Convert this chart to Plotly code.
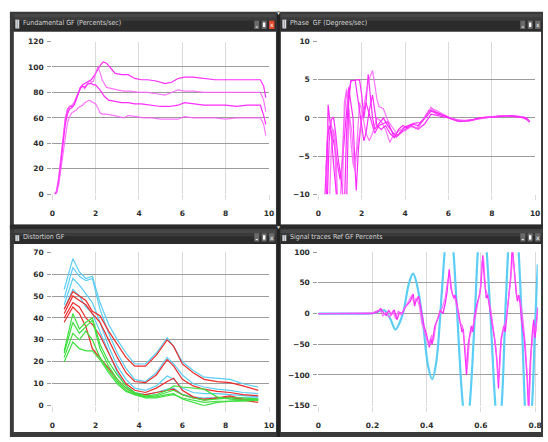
import plotly.graph_objects as go

W, H = 548, 442

# ---------------- data ----------------
# Fundamental GF (Percents/sec)
fund_a_x = [0.12,0.2,0.3,0.4,0.5,0.6,0.7,0.8,0.9,1.0,1.1,1.2,1.3,1.4,1.5,1.6,1.7,1.8,2.0,2.2,2.35,2.5,2.7,2.9,3.2,3.5,3.8,4.1,4.4,4.8,5.2,5.5,5.8,6.1,6.5,7.0,7.5,8.0,8.5,9.0,9.4,9.6,9.75,9.85]
fund_a_y = [0,2,12,28,45,58,66,69,69,70,74,80,84,86,87,88,89,90,95,101,104,103,99,95,94,94,91,90,90,89,87,88,91,92,92,91,90,90,90,90,90,90,85,76]
fund_b_x = [0.12,0.2,0.3,0.4,0.5,0.6,0.7,0.8,0.9,1.0,1.1,1.2,1.3,1.4,1.5,1.6,1.7,1.8,1.9,2.0,2.1,2.2,2.3,2.5,2.7,3.0,3.3,3.6,4.0,4.4,4.8,5.2,5.5,5.8,6.1,6.5,7.0,7.5,8.0,8.5,9.0,9.4,9.6,9.75,9.85]
fund_b_y = [0,3,14,30,47,60,67,69,70,72,76,80,83,85,83,86,89,88,89,95,100,96,90,84,83,82,81,81,80,80,79,78,80,82,81,81,80,80,80,80,80,80,80,74,65]
fund_c_x = [0.12,0.2,0.3,0.4,0.5,0.6,0.7,0.8,0.9,1.0,1.1,1.2,1.3,1.4,1.5,1.6,1.7,1.8,1.9,2.0,2.2,2.4,2.6,2.9,3.2,3.5,3.8,4.1,4.5,5.0,5.4,5.8,6.1,6.5,7.0,7.5,8.0,8.5,9.0,9.4,9.6,9.75,9.85]
fund_c_y = [0,2,10,25,42,55,63,67,68,70,75,80,84,85,84,86,87,87,86,86,82,77,74,73,72,72,71,71,70,69,69,70,72,71,70,70,70,69,70,70,70,62,55]
fund_d_x = [0.12,0.2,0.3,0.4,0.5,0.6,0.7,0.8,0.9,1.0,1.1,1.2,1.3,1.4,1.5,1.6,1.7,1.8,1.9,2.0,2.1,2.2,2.3,2.5,2.8,3.1,3.3,3.5,3.8,4.2,4.6,5.0,5.4,5.8,6.1,6.5,7.0,7.5,8.0,8.5,9.0,9.4,9.6,9.75,9.85]
fund_d_y = [0,1,8,20,35,48,56,61,64,65,66,68,69,70,72,73,74,73,72,71,68,64,63,63,62,61,60,62,61,60,60,59,59,59,61,60,60,60,59,60,60,60,60,55,46]

# Phase GF (Degrees/sec)
ph1_x = [0.38,0.45,0.6,0.7,1.0,1.1,1.4,1.5,1.6,1.7,1.75,1.85,2.0,2.2,2.4,2.6,2.8,3.2,3.5,3.8,4.0,4.3,4.6,4.9,5.2,5.5,6.0,6.5,7.0,7.5,8.0,8.5,9.0,9.5,9.75]
ph1_y = [-10.5,1.7,-2,-3,-8,-6,4,2,0,-7,-9.5,-4,0,2,0,-2,-1,-0.5,-2.5,-2,-1.5,-1,-1.5,-0.8,0.5,0.3,0,-0.3,-0.4,0,0.1,0.3,0.2,0,-0.5]
ph2_x = [0.35,0.45,0.55,0.65,0.75,0.85,1.0,1.15,1.3,1.4,1.5,1.6,1.7,1.8,1.9,2.0,2.2,2.35,2.5,2.7,2.9,3.1,3.3,3.5,3.7,3.9,4.2,4.5,4.8,5.0,5.2,5.4,5.7,6.0,6.4,6.8,7.2,7.6,8.0,8.4,8.8,9.2,9.5,9.7]
ph2_y = [-7,0.2,-0.5,-1.5,-3,-11,-12,-2,3.8,1.0,-3,-6,-7,-2,2,1,-2,-3,-2,0,-0.5,-1.5,-3.2,-2,-2.3,-1.3,-1,-1.4,-0.5,0.4,1.4,0.8,0.5,0.1,-0.4,-0.3,-0.2,0,0.1,0.2,0.3,0.2,0.1,-0.4]
ph3_x = [0.4,0.5,0.6,0.7,0.8,0.9,1.05,1.2,1.3,1.4,1.5,1.6,1.9,2.0,2.1,2.2,2.3,2.4,2.5,2.6,2.8,3.0,3.2,3.4,3.6,3.8,4.0,4.3,4.6,4.9,5.1,5.3,5.6,5.9,6.2,6.6,7.0,7.5,8.0,8.5,9.0,9.4,9.7]
ph3_y = [-12,-3,-0.2,0.1,-2,-5,-8,-12,-2,3,4.8,4.9,5.0,3,0,2,5.7,3,0,-1.5,-0.8,0,-1,-1.8,-2.5,-1.8,-1.2,-0.8,-1,0,1,0.9,0.6,0.2,-0.2,-0.4,-0.3,0,0.1,0.3,0.2,0.1,-0.3]
ph4_x = [0.5,0.6,0.7,0.8,0.9,1.1,1.2,1.3,1.45,1.55,1.65,1.8,1.95,2.1,2.25,2.4,2.5,2.6,2.7,2.8,3.0,3.2,3.4,3.6,3.8,4.0,4.3,4.6,4.8,5.0,5.25,5.5,5.8,6.1,6.5,6.9,7.3,7.7,8.1,8.5,8.9,9.3,9.6,9.75]
ph4_y = [-12,-4,-1.5,-3,-12,-12,2,3.5,0,-2,-6,-4,-1,1.5,4,5.5,6.2,4.5,2.5,1.5,1.2,-0.3,-1.2,-2,-1.5,-1.7,-1.1,-1.4,-0.4,0.6,1.2,0.9,0.4,0,-0.3,-0.4,-0.2,0,0.2,0.3,0.3,0.2,0,-0.6]
ph5_x = [0.3,0.42,0.5,0.6,0.7,0.8,0.9,1.3,1.4,1.5,1.7,1.85,2.0,2.1,2.2,2.35,2.5,2.6,2.7,2.9,3.1,3.3,3.5,3.7,3.9,4.1,4.4,4.7,5.0,5.2,5.5,5.8,6.1,6.5,6.9,7.3,7.7,8.1,8.5,8.9,9.3,9.6,9.75]
ph5_y = [-10.5,-3,-1,-2,-6,-9,-12,-12,2,4.9,4.9,2,-1,-3,-2,1,3,1,-1,-1.5,-1,-2,-2.6,-1.5,-1,-1.3,-0.7,-0.6,0.2,0.9,0.5,0.3,-0.1,-0.5,-0.4,-0.1,0.1,0.1,0.2,0.3,0.1,0,-0.5]

# Distortion GF
dist_x = [0.55,0.95,1.25,1.55,1.85,2.2,2.6,3.0,3.4,3.8,4.3,4.8,5.3,5.6,6.0,6.5,7.0,7.6,8.2,8.8,9.5]
blue_1 = [53,67,61,58,59,47,37,30,24,19,19,24,31,27,20,16,13,12.5,12,10,8.5]
blue_2 = [49,63,59,57,58,44,33,24,17,12,11,15,22,19,14,10,8.5,7.5,7,6,5.5]
blue_3 = [46,58,55,51,47,38,27,18,12,8,7,9,13.5,12,8,6,5.5,5.5,5,4.5,4]
blue_4 = [44,53,50,45,42,34,24,15,9,6,5,6,7.5,8,5,4,3.5,3.5,3.5,3.5,3.5]
red_1 = [44,52,50,48,43,41,34,28,22,18,18,23,30,27,19,15,12,11,10.5,9,7]
red_2 = [42,50,48,46,42,38,30,22,15,11,10.5,14,21,18,12,9,7.5,6.5,6,5,4.5]
red_3 = [40,47,45,40,37,32,24,16,10,7,6,8,11,12.5,7,4,2.5,3.5,4.5,3,2.5]
red_4 = [38,45,42,36,26,22,17,12,8,5.5,5,6,7,7.5,5,3.5,3,3.5,4,2.5,1.5]
green_1 = [25,42,35,38,40,28,20,14,9,6,4.5,5,7,9,8.5,8,7.5,4,3,2.5,3]
green_2 = [24,38,33,36,39,26,18,12,8,5.5,4,4.5,6,7,5,3.5,2.5,3,3.5,3.5,3]
green_3 = [22,33,30,34,30,22,16,11,7,5,4,4,5,5.5,3,1.5,0,1.5,2,2.5,2.5]
green_4 = [20,29,26,25,25,21,15,10,6.5,5,3.5,3.5,4.5,5,3.5,2.5,1.5,2,2,2,2.5]

# Signal traces Ref GF Percents
ref_x = [0,0.1,0.2,0.225,0.245,0.265,0.285,0.3,0.315,0.335,0.35,0.365,0.385,0.405,0.42,0.435,0.455,0.47,0.482,0.495,0.51,0.53,0.547,0.562,0.578,0.59,0.605,0.62,0.635,0.652,0.665,0.678,0.692,0.706,0.72,0.734,0.75,0.765,0.776,0.79,0.8,0.81]
ref_y = [0,0,0.5,4,5,-8,-26,-15,5,50,65,45,-10,-85,-107,-80,30,120,160,120,20,-130,-200,-130,0,110,180,110,0,-140,-210,-140,20,140,200,140,0,-170,-220,-140,-20,80]
sig1_x = [0,0.2,0.22,0.23,0.24,0.25,0.26,0.27,0.28,0.29,0.3,0.31,0.32,0.33,0.34,0.35,0.355,0.36,0.37,0.38,0.39,0.4,0.41,0.415,0.42,0.43,0.44,0.45,0.46,0.47,0.475,0.483,0.49,0.5,0.505,0.51,0.52,0.53,0.535,0.54,0.547,0.553,0.56,0.565,0.57,0.575,0.585,0.595,0.6,0.607,0.612,0.62,0.625,0.63,0.64,0.645,0.65,0.66,0.665,0.67,0.675,0.68,0.685,0.69,0.7,0.705,0.71,0.716,0.722,0.73,0.735,0.74,0.745,0.75,0.76,0.77,0.776,0.782,0.79,0.795,0.8,0.805,0.81]
sig1_y = [0,0,3,8,2,-3,5,-2,6,-10,2,0,10,15,20,32,12,20,28,5,-20,-35,-55,-40,-50,-20,-10,5,0,20,35,72,40,25,30,20,-5,-30,-25,-60,-100,-50,-35,-20,-30,-10,15,30,45,95,60,25,30,15,-10,-25,-40,-80,-122,-70,-40,-30,-20,-30,10,30,60,110,70,35,20,30,15,-10,-40,-100,-160,-80,-30,-10,-40,-20,10]
sig2_x = [0,0.2,0.215,0.228,0.238,0.25,0.262,0.275,0.285,0.295,0.305,0.318,0.328,0.338,0.346,0.352,0.362,0.372,0.382,0.392,0.402,0.408,0.418,0.425,0.435,0.448,0.458,0.468,0.478,0.486,0.495,0.502,0.512,0.522,0.532,0.542,0.55,0.558,0.568,0.58,0.59,0.598,0.604,0.61,0.617,0.627,0.637,0.647,0.657,0.663,0.668,0.675,0.683,0.693,0.702,0.71,0.718,0.726,0.734,0.744,0.754,0.764,0.772,0.778,0.786,0.796,0.803,0.81]
sig2_y = [0,1,4,6,-4,2,-6,4,-8,4,-2,8,18,25,30,18,25,15,-15,-30,-45,-52,-35,-45,-15,2,10,25,55,60,30,28,10,-15,-20,-55,-90,-40,-25,-5,20,40,85,90,40,28,5,-30,-60,-110,-100,-45,-25,-10,20,55,95,60,25,25,-5,-50,-120,-150,-60,-20,-30,5]

titles = ["Fundamental GF (Percents/sec)", "Phase  GF (Degrees/sec)",
          "Distortion GF", "Signal traces Ref GF Percents"]
x_ticks_main = [0, 2, 4, 6, 8, 10]
x_ticks_sig = [0, 0.2, 0.4, 0.6, 0.8]

# ---------------- figure ----------------
MAG = "#ff2bff"
MAG2 = "rgba(255,90,255,0.85)"
BLUE = "#5ccdf5"
RED = "#ee2a2a"
GREEN = "#3ee03e"

fig = go.Figure()

def add(x, y, color, ax, width=1.2, shape="linear"):
    fig.add_trace(go.Scatter(x=x, y=y, mode="lines", xaxis="x" + ax, yaxis="y" + ax,
                             line=dict(color=color, width=width, shape=shape),
                             hoverinfo="skip", showlegend=False))

for xs, ys, c in [(fund_a_x, fund_a_y, MAG), (fund_b_x, fund_b_y, MAG2),
                  (fund_c_x, fund_c_y, MAG), (fund_d_x, fund_d_y, MAG2)]:
    add(xs, ys, c, "")
for xs, ys, c in [(ph1_x, ph1_y, MAG), (ph2_x, ph2_y, MAG2), (ph3_x, ph3_y, MAG),
                  (ph4_x, ph4_y, MAG2), (ph5_x, ph5_y, MAG)]:
    add(xs, ys, c, "2")
for ys in [blue_1, blue_2, blue_3, blue_4]:
    add(dist_x, ys, BLUE, "3")
for ys in [red_1, red_2, red_3, red_4]:
    add(dist_x, ys, RED, "3")
for ys in [green_1, green_2, green_3, green_4]:
    add(dist_x, ys, GREEN, "3")
add(ref_x, ref_y, BLUE, "4", width=2.2, shape="spline")
add(sig1_x, sig1_y, MAG, "4", width=1.3)
add(sig2_x, sig2_y, MAG2, "4", width=1.2)

def fx(p):
    return p / W

def fy(p):
    return 1 - p / H

tickfont = dict(family="DejaVu Sans", size=7.5, color="#2a2a2a", weight="bold")

def xax(l, r, rng, ticks, anchor):
    return dict(domain=[fx(l), fx(r)], range=rng, tickvals=ticks, anchor=anchor,
                showgrid=True, gridcolor="#dadada", gridwidth=1.3, zeroline=False,
                showline=False, ticks="outside", ticklen=5, tickcolor="#dadada",
                tickwidth=1.3, tickfont=tickfont, ticklabelstandoff=7, fixedrange=True,
                ticklabeloverflow="allow")

def yax(t, b, rng, ticks, anchor):
    return dict(domain=[fy(b), fy(t)], range=rng, tickvals=ticks, anchor=anchor,
                showgrid=True, gridcolor="#9c9c9c", gridwidth=1, zeroline=False,
                showline=False, ticks="outside", ticklen=4, tickcolor="#9c9c9c",
                tickfont=tickfont, ticklabelstandoff=2, fixedrange=True)

shapes = []

def rect(x0, y0, x1, y1, color, line=None):
    shapes.append(dict(type="rect", xref="paper", yref="paper", x0=fx(x0), x1=fx(x1),
                       y0=fy(y1), y1=fy(y0), fillcolor=color, layer="below",
                       line=dict(width=0) if line is None else line))

def seg(x0, y0, x1, y1, color, w=1):
    shapes.append(dict(type="line", xref="paper", yref="paper", x0=fx(x0), x1=fx(x1),
                       y0=fy(y0), y1=fy(y1), layer="below", line=dict(color=color, width=w)))

# outer frame
rect(7, 8, 548, 442, "#3a3a3a")
# white content areas
rect(11, 28, 277, 225, "#ffffff")
rect(282, 28, 546, 225, "#ffffff")
rect(11, 245, 277, 437, "#ffffff")
rect(282, 245, 546, 437, "#ffffff")

annotations = []
TITLE_FONT = "DejaVu Sans Condensed, Liberation Sans Narrow, Arial Narrow, Liberation Sans, sans-serif"

def titlebar(x0, x1, y0, y1, text, red_close):
    rect(x0, y0, x1, y1, "#2c2c2c")
    rect(x0, y0, x1, y0 + 4, "#474747")
    rect(x0, y0 + 4, x1, y0 + 7, "#3b3b3b")
    # icon
    rect(x0 + 1.5, y0 + 6, x0 + 5.5, y1 - 3, "#d8d8d8")
    seg(x0 + 3.5, y0 + 6, x0 + 3.5, y1 - 3, "#9aa4b0", 1)
    annotations.append(dict(x=fx(x0 + 7.5), y=fy((y0 + y1) / 2 + 0.5), xref="paper", yref="paper",
                            text=text, showarrow=False, xanchor="left", yanchor="middle",
                            font=dict(family=TITLE_FONT, size=7, color="#d6d6d6")))
    # buttons
    by0, by1 = y1 - 11, y1 - 2.5
    bx = x1 - 22
    rect(bx, by0, bx + 5, by1, "#6a6a6a")
    seg(bx + 1.5, by1 - 2, bx + 3.5, by1 - 2, "#ffffff", 1)
    bx += 7.5
    rect(bx, by0, bx + 5, by1, "#6a6a6a")
    rect(bx + 1.3, by0 + 2, bx + 3.7, by1 - 2, "#ffffff")
    bx += 7.5
    rect(bx, by0, bx + 5.5, by1, "#e0492f" if red_close else "#6a6a6a")
    annotations.append(dict(x=fx(bx + 2.75), y=fy((by0 + by1) / 2), xref="paper", yref="paper",
                            text="x", showarrow=False, xanchor="center", yanchor="middle",
                            font=dict(family="DejaVu Sans", size=6, color="#ffffff")))

titlebar(11, 277, 10, 28, titles[0], True)
titlebar(282, 547, 10, 28, titles[1], False)
titlebar(11, 277, 230, 245, titles[2], False)
titlebar(282, 547, 230, 245, titles[3], False)

# separators
seg(279.5, 8, 279.5, 442, "#222222", 3)
seg(7, 227.5, 548, 227.5, "#2a2a2a", 4)
for yy in [9, 228]:
    annotations.append(dict(x=fx(279.5), y=fy(yy), xref="paper", yref="paper", text="▼",
                            showarrow=False, xanchor="center", yanchor="middle",
                            font=dict(size=5, color="#e0e0e0")))

fig.update_layout(
    width=W, height=H, autosize=False, margin=dict(l=0, r=0, t=0, b=0),
    paper_bgcolor="#ffffff", plot_bgcolor="rgba(0,0,0,0)", showlegend=False,
    shapes=shapes, annotations=annotations,
    xaxis=xax(50, 270, [0, 10], x_ticks_main, "y"),
    yaxis=yax(38.3, 194.3, [0, 120], [0, 20, 40, 60, 80, 100, 120], "x"),
    xaxis2=xax(320, 540, [0, 10], x_ticks_main, "y2"),
    yaxis2=yax(38.3, 194.3, [-10, 10], [-10, -5, 0, 5, 10], "x2"),
    xaxis3=xax(50, 270, [0, 10], x_ticks_main, "y3"),
    yaxis3=yax(253.3, 410, [0, 70], [0, 10, 20, 30, 40, 50, 60, 70], "x3"),
    xaxis4=xax(320, 542.7, [0, 0.81], x_ticks_sig, "y4"),
    yaxis4=yax(253.3, 410, [-150, 100], [-150, -100, -50, 0, 50, 100], "x4"),
)
fig.write_html("out.html", config={"displayModeBar": False},
               post_script="document.body.style.margin='0';document.body.style.overflow='hidden';")
